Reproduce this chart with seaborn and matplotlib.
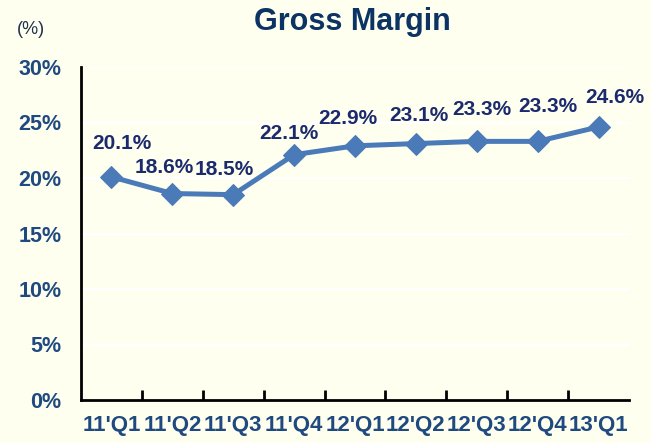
import matplotlib
matplotlib.use("Agg")
import matplotlib.pyplot as plt
from matplotlib.ticker import FixedLocator, FuncFormatter
import seaborn as sns

quarters = ["11'Q1", "11'Q2", "11'Q3", "11'Q4", "12'Q1", "12'Q2", "12'Q3", "12'Q4", "13'Q1"]
margin = [20.1, 18.6, 18.5, 22.1, 22.9, 23.1, 23.3, 23.3, 24.6]
y_ticks = [0, 5, 10, 15, 20, 25, 30]

# label nudges in pixels (x, y above the point)
label_dx = [10, -8, -9, -5, -7, 3, 5, 10, 16]
label_dy = [33, 26, 25, 21, 27, 28, 32, 35, 29]

bg = "#FFFFF0"
navy = "#0B3363"
tick_blue = "#1F4A80"
label_navy = "#1A2A6C"
line_blue = "#4A7AB8"

sns.set_theme(style="white")
plt.rcParams["font.family"] = ["Liberation Sans", "DejaVu Sans"]

fig = plt.figure(figsize=(6.51, 4.43), dpi=100, facecolor=bg)
ax = fig.add_axes([81 / 651, 43 / 443, 548 / 651, 333 / 443])
ax.set_facecolor(bg)

for t in y_ticks:
    ax.axhline(t, color="white", lw=1.6, zorder=0)

sns.lineplot(x=quarters, y=margin, ax=ax, color=line_blue, lw=3.6,
             marker="D", markersize=11, markeredgecolor=line_blue, sort=False, zorder=3)

for i, v in enumerate(margin):
    ax.annotate(f"{v:.1f}%", (i, v), xytext=(label_dx[i], label_dy[i]),
                textcoords="offset pixels", ha="center", va="center",
                fontsize=15, fontweight="bold", color=label_navy, zorder=4)

ax.set_xlim(-0.5, len(quarters) - 0.5)
ax.set_ylim(0, 30)
ax.set_yticks(y_ticks)
ax.yaxis.set_major_formatter(FuncFormatter(lambda v, p: f"{v:.0f}%"))
ax.xaxis.set_minor_locator(FixedLocator([i + 0.5 for i in range(len(quarters) - 1)]))

ax.tick_params(axis="y", which="major", direction="in", length=7, width=2,
               color="black", pad=14, labelsize=15.5, labelcolor=tick_blue)
ax.tick_params(axis="x", which="major", length=0, pad=11, labelsize=16, labelcolor=tick_blue)
ax.tick_params(axis="x", which="minor", direction="in", length=7, width=2, color="black", bottom=True)
for lab in ax.get_yticklabels() + ax.get_xticklabels():
    lab.set_fontweight("bold")

for side in ["top", "right"]:
    ax.spines[side].set_visible(False)
for side in ["left", "bottom"]:
    ax.spines[side].set_color("black")
    ax.spines[side].set_linewidth(2)

ax.set_xlabel("")
ax.set_ylabel("")

fig.text(352 / 651, 1 - 22 / 443, "Gross Margin", ha="center", va="center",
         fontsize=22, fontweight="bold", color=navy)
fig.text(17 / 651, 1 - 29 / 443, "(%)", ha="left", va="center", fontsize=13, color="#1F3050")

fig.savefig("out.png", dpi=100, facecolor=bg)
